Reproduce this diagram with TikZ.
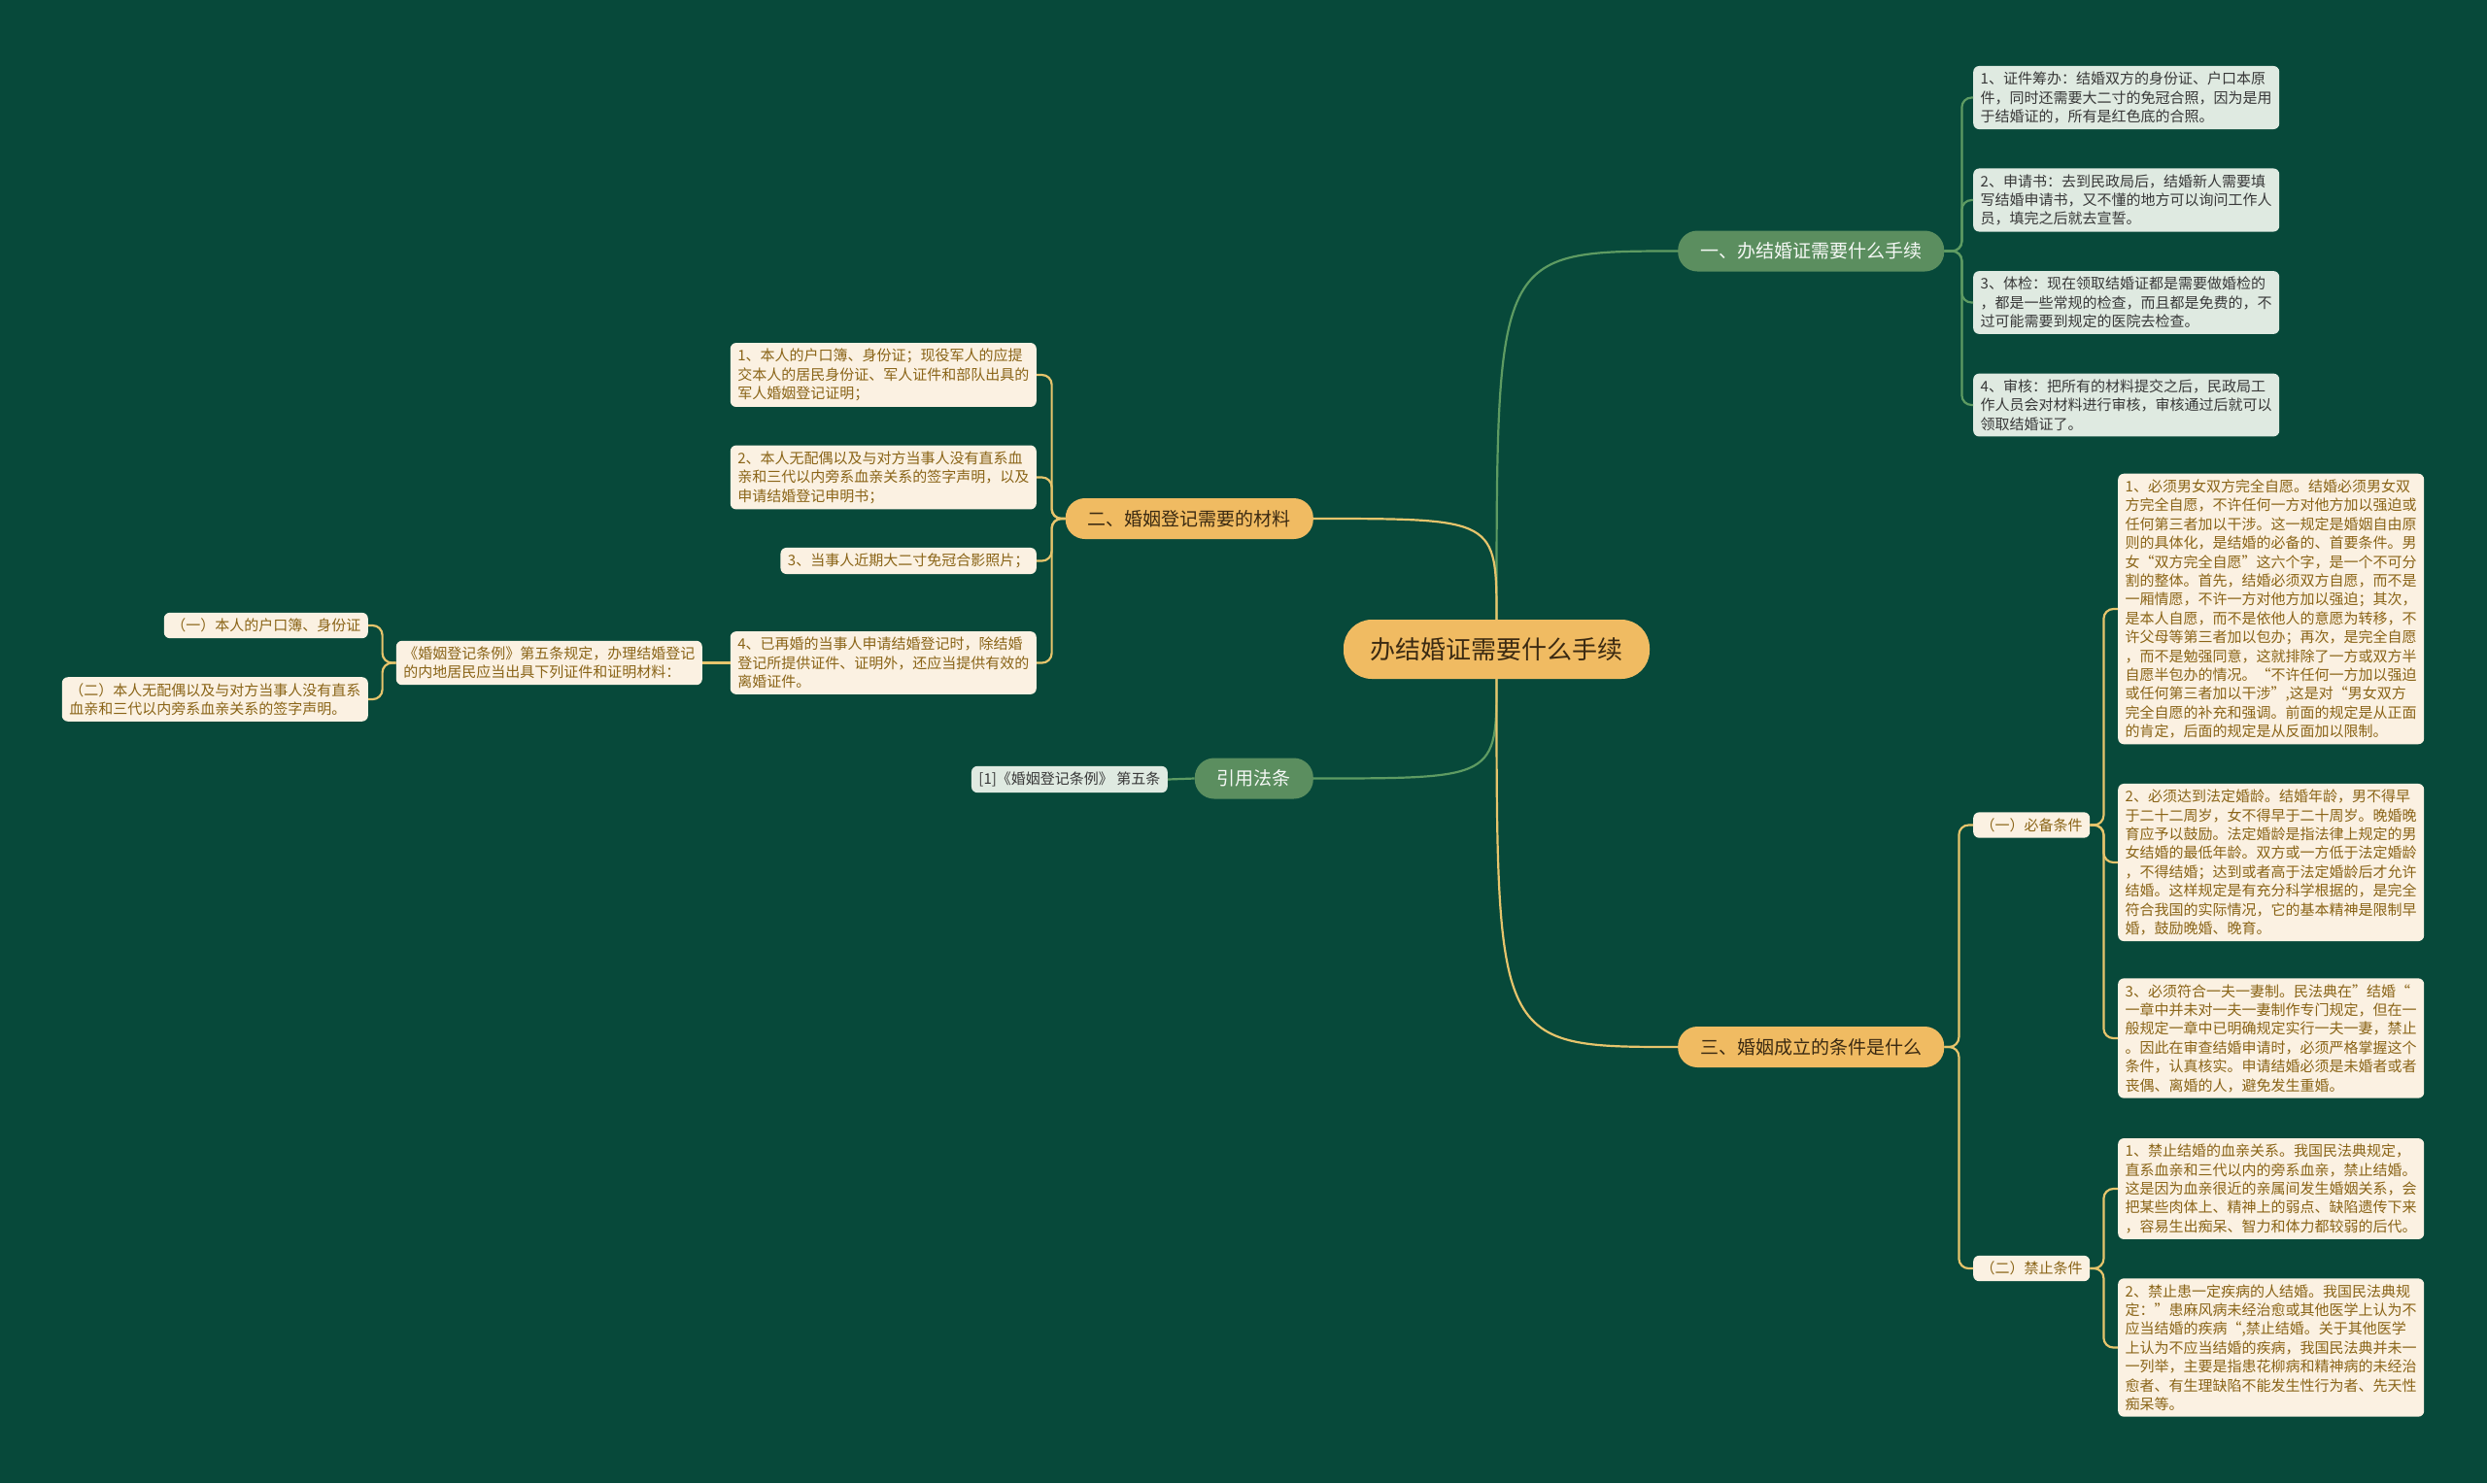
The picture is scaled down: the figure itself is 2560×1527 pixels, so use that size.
\documentclass[tikz,border=0pt]{standalone}
\usepackage{fontspec}
\setmainfont{Noto Sans CJK SC}
\usetikzlibrary{positioning}
\definecolor{bg}{HTML}{07493A}
\definecolor{gold}{HTML}{F0BB62}
\definecolor{goldline}{HTML}{E6C46C}
\definecolor{leaf}{HTML}{5B8E5F}
\definecolor{leafline}{HTML}{5E9B62}
\definecolor{cream}{HTML}{FBF1E2}
\definecolor{creamtext}{HTML}{8A6417}
\definecolor{mint}{HTML}{DFEAE1}
\definecolor{darktext}{HTML}{3B2A12}

\begin{document}
\begin{tikzpicture}[x=1pt, y=-1pt,
  topic/.style={rounded corners=20pt, minimum height=42pt, inner xsep=23pt, inner ysep=0pt, font=\fontsize{19}{23}\selectfont},
  goldtopic/.style={topic, fill=gold, text=darktext},
  greentopic/.style={topic, fill=leaf, text=white!94!leaf},
  card/.style={rounded corners=6pt, inner xsep=7.5pt, inner ysep=6pt, align=left, font=\fontsize{15}{19.4}\selectfont},
  cardw/.style={text width=300pt},
  creamcard/.style={card, fill=cream, text=creamtext},
  mintcard/.style={card, fill=mint, text=black!78},
  goldlink/.style={draw=goldline, line width=2.2pt, rounded corners=10pt},
  greenlink/.style={draw=leafline, line width=2.2pt, rounded corners=10pt}]

  % Background
  \fill[bg] (0,0) rectangle (2560,1527);
  \useasboundingbox (0,0) rectangle (2560,1527);

  % Root and main topics
  \node[fill=gold, text=darktext, rounded corners=29pt, minimum width=315pt, minimum height=61pt,
        font=\fontsize{26}{30}\selectfont] (root) at (1540.5,668.5) {办结婚证需要什么手续};
  \node[greentopic, anchor=west] (one) at (1727,258.5) {一、办结婚证需要什么手续};
  \node[goldtopic, anchor=east] (two) at (1352,534) {二、婚姻登记需要的材料};
  \node[greentopic, anchor=east] (cite) at (1352,801.5) {引用法条};
  \node[goldtopic, anchor=west] (three) at (1727,1078) {三、婚姻成立的条件是什么};

  % Topic one
  \node[mintcard, cardw, anchor=west] (p1) at (2031,100.5) {1、证件筹办：结婚双方的身份证、户口本原\\件，同时还需要大二寸的免冠合照，因为是用\\于结婚证的，所有是红色底的合照。};
  \node[mintcard, cardw, anchor=west] (p2) at (2031,206) {2、申请书：去到民政局后，结婚新人需要填\\写结婚申请书，又不懂的地方可以询问工作人\\员，填完之后就去宣誓。};
  \node[mintcard, cardw, anchor=west] (p3) at (2031,311.5) {3、体检：现在领取结婚证都是需要做婚检的\\，都是一些常规的检查，而且都是免费的，不\\过可能需要到规定的医院去检查。};
  \node[mintcard, cardw, anchor=west] (p4) at (2031,417) {4、审核：把所有的材料提交之后，民政局工\\作人员会对材料进行审核，审核通过后就可以\\领取结婚证了。};

  % Topic two
  \node[creamcard, cardw, anchor=east] (l1) at (1067,386) {1、本人的户口簿、身份证；现役军人的应提\\交本人的居民身份证、军人证件和部队出具的\\军人婚姻登记证明；};
  \node[creamcard, cardw, anchor=east] (l2) at (1067,491.5) {2、本人无配偶以及与对方当事人没有直系血\\亲和三代以内旁系血亲关系的签字声明，以及\\申请结婚登记申明书；};
  \node[creamcard, anchor=east] (l3) at (1067,577.5) {3、当事人近期大二寸免冠合影照片；};
  \node[creamcard, cardw, anchor=east] (l4) at (1067,682.5) {4、已再婚的当事人申请结婚登记时，除结婚\\登记所提供证件、证明外，还应当提供有效的\\离婚证件。};
  \node[creamcard, cardw, anchor=east] (law) at (723,682.5) {《婚姻登记条例》第五条规定，办理结婚登记\\的内地居民应当出具下列证件和证明材料：};
  \node[creamcard, anchor=east] (k1) at (379,644) {（一）本人的户口簿、身份证};
  \node[creamcard, cardw, anchor=east] (k2) at (379,720) {（二）本人无配偶以及与对方当事人没有直系\\血亲和三代以内旁系血亲关系的签字声明。};

  % Cited article
  \node[mintcard, anchor=east] (ref) at (1202,802.5) {[1]《婚姻登记条例》 第五条};

  % Topic three
  \node[creamcard, anchor=west] (c1) at (2031,849.5) {（一）必备条件};
  \node[creamcard, anchor=west] (c2) at (2031,1306) {（二）禁止条件};
  \node[creamcard, cardw, anchor=west] (r1) at (2180,627) {1、必须男女双方完全自愿。结婚必须男女双\\方完全自愿，不许任何一方对他方加以强迫或\\任何第三者加以干涉。这一规定是婚姻自由原\\则的具体化，是结婚的必备的、首要条件。男\\女“双方完全自愿”这六个字，是一个不可分\\割的整体。首先，结婚必须双方自愿，而不是\\一厢情愿，不许一方对他方加以强迫；其次，\\是本人自愿，而不是依他人的意愿为转移，不\\许父母等第三者加以包办；再次，是完全自愿\\，而不是勉强同意，这就排除了一方或双方半\\自愿半包办的情况。“不许任何一方加以强迫\\或任何第三者加以干涉”,这是对“男女双方\\完全自愿的补充和强调。前面的规定是从正面\\的肯定，后面的规定是从反面加以限制。};
  \node[creamcard, cardw, anchor=west] (r2) at (2180,888) {2、必须达到法定婚龄。结婚年龄，男不得早\\于二十二周岁，女不得早于二十周岁。晚婚晚\\育应予以鼓励。法定婚龄是指法律上规定的男\\女结婚的最低年龄。双方或一方低于法定婚龄\\，不得结婚；达到或者高于法定婚龄后才允许\\结婚。这样规定是有充分科学根据的，是完全\\符合我国的实际情况，它的基本精神是限制早\\婚，鼓励晚婚、晚育。};
  \node[creamcard, cardw, anchor=west] (r3) at (2180,1069) {3、必须符合一夫一妻制。民法典在”结婚“\\一章中并未对一夫一妻制作专门规定，但在一\\般规定一章中已明确规定实行一夫一妻，禁止\\。因此在审查结婚申请时，必须严格掌握这个\\条件，认真核实。申请结婚必须是未婚者或者\\丧偶、离婚的人，避免发生重婚。};
  \node[creamcard, cardw, anchor=west] (r4) at (2180,1224) {1、禁止结婚的血亲关系。我国民法典规定，\\直系血亲和三代以内的旁系血亲，禁止结婚。\\这是因为血亲很近的亲属间发生婚姻关系，会\\把某些肉体上、精神上的弱点、缺陷遗传下来\\，容易生出痴呆、智力和体力都较弱的后代。};
  \node[creamcard, cardw, anchor=west] (r5) at (2180,1387.5) {2、禁止患一定疾病的人结婚。我国民法典规\\定：”患麻风病未经治愈或其他医学上认为不\\应当结婚的疾病“,禁止结婚。关于其他医学\\上认为不应当结婚的疾病，我国民法典并未一\\一列举，主要是指患花柳病和精神病的未经治\\愈者、有生理缺陷不能发生性行为者、先天性\\痴呆等。};

  % Links from the root
  \draw[greenlink] (root.north) .. controls (root.north |- one.west) .. (one.west);
  \draw[goldlink] (root.north) .. controls (root.north |- two.east) .. (two.east);
  \draw[greenlink] (root.south) .. controls (root.south |- cite.east) .. (cite.east);
  \draw[goldlink] (root.south) .. controls (root.south |- three.west) .. (three.west);

  % Links to the cards
  \foreach \n in {p1,p2,p3,p4}
    \draw[greenlink] (one.east) -- ++(18,0) |- (\n.west);
  \foreach \n in {l1,l2,l3,l4}
    \draw[goldlink] (two.west) -- ++(-14,0) |- (\n.east);
  \draw[goldlink] (l4.west) -- (law.east);
  \foreach \n in {k1,k2}
    \draw[goldlink] (law.west) -- ++(-14,0) |- (\n.east);
  \draw[greenlink] (cite.west) -- (ref.east);
  \foreach \n in {c1,c2}
    \draw[goldlink] (three.east) -- ++(15,0) |- (\n.west);
  \foreach \n in {r1,r2,r3}
    \draw[goldlink] (c1.east) -- ++(14,0) |- (\n.west);
  \foreach \n in {r4,r5}
    \draw[goldlink] (c2.east) -- ++(14,0) |- (\n.west);
\end{tikzpicture}
\end{document}
